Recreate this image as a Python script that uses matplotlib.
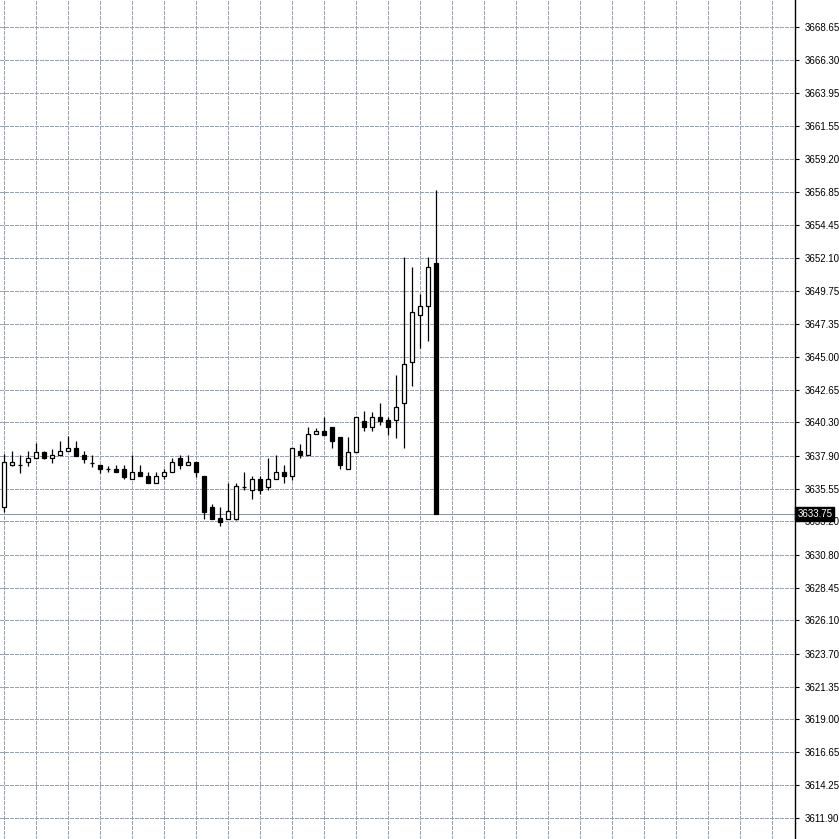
import matplotlib
matplotlib.use("Agg")
import matplotlib.pyplot as plt
import matplotlib.transforms as mtransforms

opens = [3634.21, 3637.22, 3637.25, 3637.44, 3637.73, 3638.20, 3637.73, 3637.94, 3638.23, 3638.44,
         3637.96, 3637.37, 3637.25, 3636.94, 3636.96, 3636.96, 3636.22, 3636.72, 3636.46, 3635.93,
         3636.46, 3636.72, 3637.73, 3637.22, 3637.44, 3636.46, 3634.21, 3633.42, 3633.39, 3633.39,
         3635.70, 3635.45, 3636.22, 3635.69, 3636.22, 3636.72, 3636.46, 3638.25, 3637.96, 3639.47,
         3639.66, 3639.95, 3639.23, 3636.94, 3638.20, 3640.42, 3639.95, 3640.67, 3640.44, 3640.45,
         3641.67, 3644.66, 3647.99, 3648.68, 3651.72]
highs = [3638.01, 3638.25, 3637.96, 3638.23, 3638.80, 3638.25, 3638.39, 3638.97, 3639.31, 3638.95,
         3638.25, 3637.96, 3637.25, 3637.20, 3637.25, 3637.22, 3637.96, 3637.22, 3636.72, 3636.72,
         3636.96, 3637.73, 3637.96, 3637.96, 3637.44, 3636.46, 3634.45, 3634.21, 3635.98, 3635.98,
         3636.77, 3636.46, 3636.46, 3637.73, 3637.96, 3637.25, 3638.44, 3638.75, 3639.99, 3639.90,
         3640.71, 3639.95, 3639.23, 3639.23, 3640.67, 3641.14, 3641.05, 3641.67, 3640.67, 3643.70,
         3652.19, 3651.43, 3649.52, 3652.19, 3656.98]
lows = [3633.89, 3637.14, 3636.69, 3637.17, 3637.73, 3637.70, 3637.37, 3637.94, 3638.23, 3637.91,
        3637.41, 3637.08, 3636.65, 3636.72, 3636.72, 3636.22, 3636.22, 3636.44, 3635.93, 3635.93,
        3636.22, 3636.72, 3636.94, 3637.22, 3636.41, 3633.37, 3633.39, 3632.89, 3633.39, 3633.30,
        3635.45, 3634.78, 3635.17, 3635.45, 3636.22, 3635.93, 3636.17, 3637.73, 3637.96, 3639.47,
        3639.42, 3638.44, 3636.94, 3636.94, 3638.20, 3639.66, 3639.65, 3640.14, 3639.40, 3639.20,
        3638.43, 3642.94, 3645.62, 3646.14, 3633.75]
closes = [3637.44, 3637.44, 3637.25, 3637.73, 3638.20, 3637.73, 3637.96, 3638.23, 3638.44, 3637.91,
          3637.70, 3637.37, 3636.94, 3636.94, 3636.72, 3636.41, 3636.72, 3636.44, 3635.93, 3636.46,
          3636.72, 3637.44, 3637.22, 3637.44, 3636.72, 3633.89, 3633.39, 3633.18, 3633.95, 3635.72,
          3635.70, 3636.22, 3635.45, 3636.22, 3636.72, 3636.46, 3638.44, 3637.96, 3639.47, 3639.66,
          3639.42, 3638.95, 3637.22, 3638.20, 3640.67, 3639.95, 3640.67, 3640.42, 3639.95, 3641.44,
          3644.47, 3648.20, 3648.68, 3651.43, 3633.75]

tick_labels = ["3668.65", "3666.30", "3663.95", "3661.55", "3659.20", "3656.85", "3654.45",
               "3652.10", "3649.75", "3647.35", "3645.00", "3642.65", "3640.30", "3637.90",
               "3635.55", "3633.20", "3630.80", "3628.45", "3626.10", "3623.70", "3621.35",
               "3619.00", "3616.65", "3614.25", "3611.90"]
current_price = 3633.75
current_label = "3633.75"

W = H = 839
fig = plt.figure(figsize=(W / 100, H / 100), dpi=100)
ax = fig.add_axes([0, 0, 795 / W, 1])
ax.set_facecolor("white")

x = list(range(len(opens)))
grid_col = "#9aa3ad"
dash = (0, (3.0, 2.0))
glw = 0.72

# grid
for v in tick_labels:
    ax.axhline(float(v), color=grid_col, lw=glw, ls=dash, zorder=0, antialiased=False)
for gx in range(0, 99, 4):
    ax.axvline(gx, color=grid_col, lw=glw, ls=dash, zorder=0, antialiased=False)

# current price line
ax.axhline(current_price, color="#8c96a2", lw=0.72, zorder=1, antialiased=False)

# candles
bw = 0.55
for i, o, h, l, c in zip(x, opens, highs, lows, closes):
    ax.vlines(i, l, h, color="black", lw=0.9, zorder=2)
    bottom = min(o, c)
    height = abs(c - o)
    face = "white" if c >= o else "black"
    ax.bar(i, height, width=bw, bottom=bottom, color=face, edgecolor="black",
           linewidth=0.9, zorder=3)

ax.set_xlim(-0.5, 98.875)
ax.set_ylim(3610.41, 3670.61)

for s in ["top", "left", "bottom"]:
    ax.spines[s].set_visible(False)
ax.spines["right"].set_color("black")
ax.spines["right"].set_linewidth(1.0)
ax.set_xticks([])
ax.yaxis.tick_right()
ax.set_yticks([float(v) for v in tick_labels])
ax.set_yticklabels(tick_labels)
ax.tick_params(axis="y", direction="out", length=3, width=0.8, pad=4,
               labelsize=7, colors="black")
for t in ax.get_yticklabels():
    t.set_fontfamily("Liberation Sans")

trans = mtransforms.blended_transform_factory(ax.transAxes, ax.transData)
ax.text(1.003, current_price, current_label, transform=trans, ha="left", va="center",
        fontsize=7, family="Liberation Sans", color="white", zorder=10, clip_on=False,
        bbox=dict(boxstyle="square,pad=0.2", facecolor="black", edgecolor="black"))

fig.savefig("out.png", dpi=100, facecolor="white")
